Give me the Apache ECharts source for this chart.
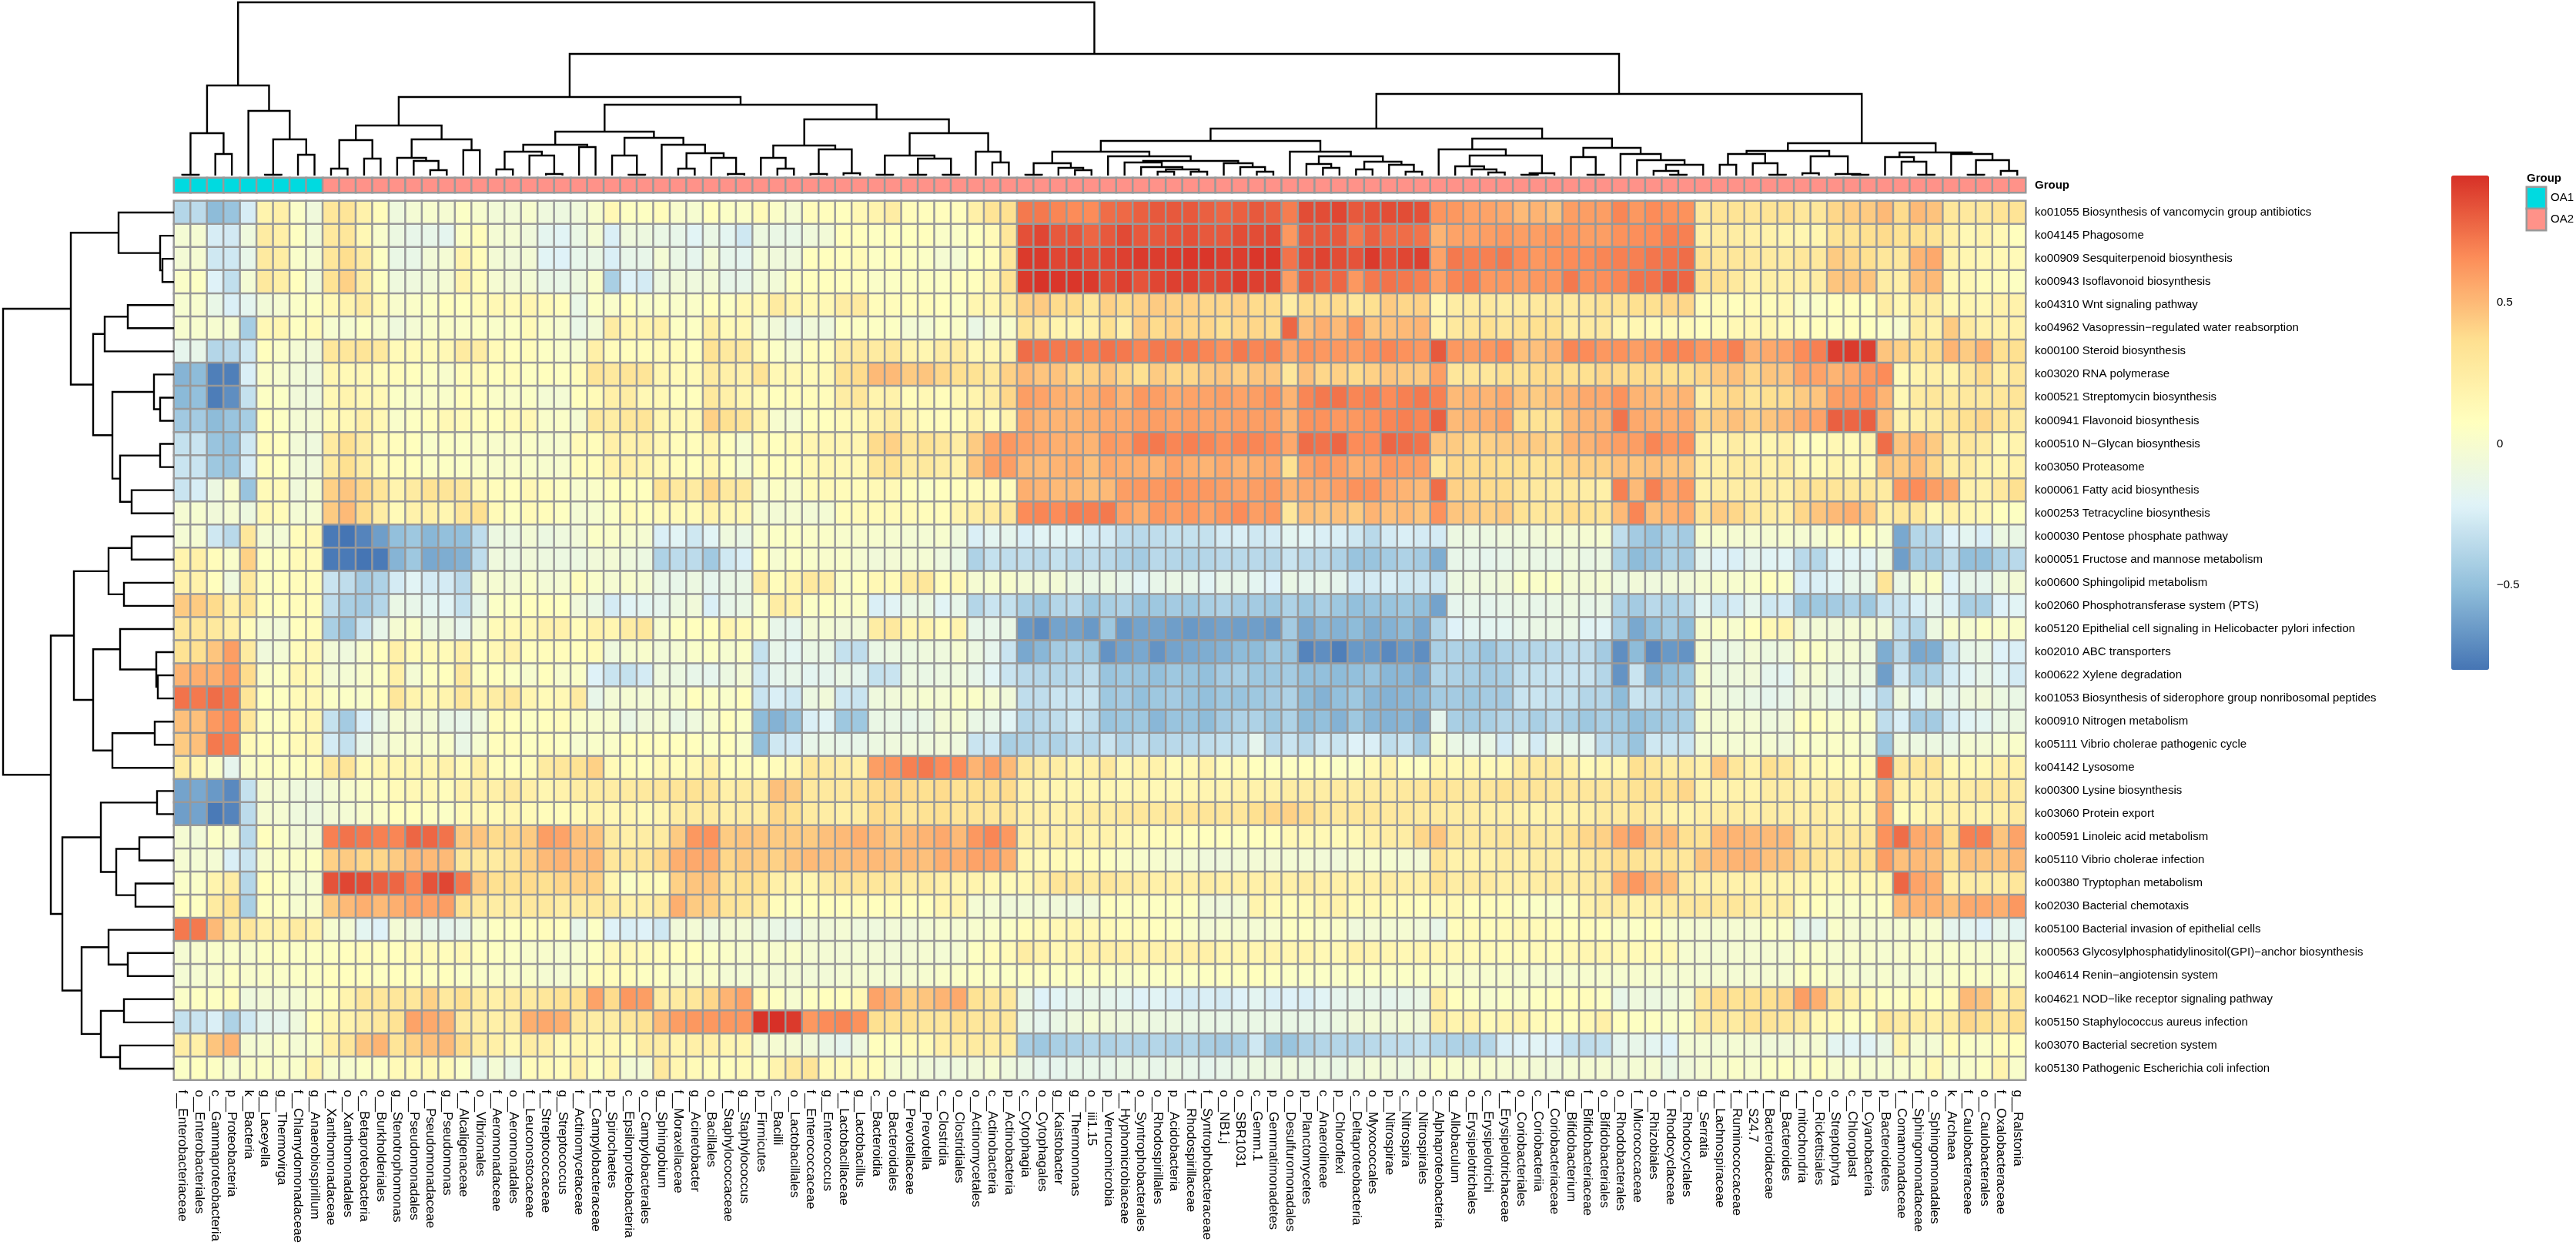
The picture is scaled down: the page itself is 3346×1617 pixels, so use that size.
<!DOCTYPE html>
<html>
<head>
<meta charset="utf-8">
<title>heatmap</title>
<script src="https://cdn.jsdelivr.net/npm/echarts@6/dist/echarts.min.js"></script>
<style>
html, body { margin: 0; padding: 0; background: #fff; }
#main { width: 3346px; height: 1617px; }
</style>
</head>
<body>
<div id="main"></div>
<script>
// columns, in dendrogram order
const taxa = ["f__Enterobacteriaceae","o__Enterobacteriales","c__Gammaproteobacteria","p__Proteobacteria","k__Bacteria","g__Laceyella","g__Thermovirga","f__Chlamydomonadaceae","g__Anaerobiospirillum",
"f__Xanthomonadaceae","o__Xanthomonadales","c__Betaproteobacteria","o__Burkholderiales","g__Stenotrophomonas","o__Pseudomonadales","f__Pseudomonadaceae","g__Pseudomonas","f__Alcaligenaceae","o__Vibrionales","f__Aeromonadaceae","o__Aeromonadales","f__Leuconostocaceae","f__Streptococcaceae","g__Streptococcus","f__Actinomycetaceae","f__Campylobacteraceae","p__Spirochaetes","c__Epsilonproteobacteria","o__Campylobacterales","g__Sphingobium","f__Moraxellaceae","g__Acinetobacter","o__Bacillales","f__Staphylococcaceae","g__Staphylococcus","p__Firmicutes",
"c__Bacilli","o__Lactobacillales","f__Enterococcaceae","g__Enterococcus","f__Lactobacillaceae","g__Lactobacillus","c__Bacteroidia","o__Bacteroidales","f__Prevotellaceae","g__Prevotella","c__Clostridia","o__Clostridiales","o__Actinomycetales","c__Actinobacteria","p__Actinobacteria",
"c__Cytophagia","o__Cytophagales","g__Kaistobacter","g__Thermomonas","o__iii1.15","p__Verrucomicrobia","f__Hyphomicrobiaceae","o__Syntrophobacterales","o__Rhodospirillales","p__Acidobacteria","f__Rhodospirillaceae","f__Syntrophobacteraceae","o__NB1.j","o__SBR1031","c__Gemm.1","p__Gemmatimonadetes",
"o__Desulfuromonadales","p__Planctomycetes","c__Anaerolineae","p__Chloroflexi","c__Deltaproteobacteria","o__Myxococcales","p__Nitrospirae","c__Nitrospira","o__Nitrospirales",
"c__Alphaproteobacteria","g__Allobaculum","o__Erysipelotrichales","c__Erysipelotrichi","f__Erysipelotrichaceae","o__Coriobacteriales","c__Coriobacteriia","f__Coriobacteriaceae","g__Bifidobacterium","f__Bifidobacteriaceae","o__Bifidobacteriales","o__Rhodobacterales","f__Micrococcaceae","o__Rhizobiales","f__Rhodocyclaceae","o__Rhodocyclales",
"g__Serratia","f__Lachnospiraceae","f__Ruminococcaceae","f__S24.7","f__Bacteroidaceae","g__Bacteroides","f__mitochondria","o__Rickettsiales","o__Streptophyta","c__Chloroplast","p__Cyanobacteria","p__Bacteroidetes","f__Comamonadaceae","f__Sphingomonadaceae","o__Sphingomonadales","k__Archaea","f__Caulobacteraceae","o__Caulobacterales","f__Oxalobacteraceae","g__Ralstonia"];
// these columns carry the OA1 annotation, all others OA2
const oa1Taxa = ["f__Enterobacteriaceae","o__Enterobacteriales","c__Gammaproteobacteria","p__Proteobacteria","k__Bacteria","g__Laceyella","g__Thermovirga","f__Chlamydomonadaceae","g__Anaerobiospirillum"];

const pathways = ["ko01055 Biosynthesis of vancomycin group antibiotics","ko04145 Phagosome","ko00909 Sesquiterpenoid biosynthesis","ko00943 Isoflavonoid biosynthesis","ko04310 Wnt signaling pathway","ko04962 Vasopressin−regulated water reabsorption","ko00100 Steroid biosynthesis","ko03020 RNA polymerase","ko00521 Streptomycin biosynthesis","ko00941 Flavonoid biosynthesis","ko00510 N−Glycan biosynthesis","ko03050 Proteasome","ko00061 Fatty acid biosynthesis","ko00253 Tetracycline biosynthesis","ko00030 Pentose phosphate pathway","ko00051 Fructose and mannose metabolism","ko00600 Sphingolipid metabolism","ko02060 Phosphotransferase system (PTS)","ko05120 Epithelial cell signaling in Helicobacter pylori infection","ko02010 ABC transporters","ko00622 Xylene degradation","ko01053 Biosynthesis of siderophore group nonribosomal peptides","ko00910 Nitrogen metabolism","ko05111 Vibrio cholerae pathogenic cycle","ko04142 Lysosome","ko00300 Lysine biosynthesis","ko03060 Protein export","ko00591 Linoleic acid metabolism","ko05110 Vibrio cholerae infection","ko00380 Tryptophan metabolism","ko02030 Bacterial chemotaxis","ko05100 Bacterial invasion of epithelial cells","ko00563 Glycosylphosphatidylinositol(GPI)−anchor biosynthesis","ko04614 Renin−angiotensin system","ko04621 NOD−like receptor signaling pathway","ko05150 Staphylococcus aureus infection","ko03070 Bacterial secretion system","ko05130 Pathogenic Escherichia coli infection"];

// correlation per pathway, in hundredths
const ko01055 = [-38,-35,-52,-48,-25,18,22,3,-7,
30,32,20,10,-8,-3,0,-2,4,0,-5,-5,0,-8,-9,-7,0,14,6,6,10,1,-1,8,4,3,12,
3,-3,10,9,8,14,18,24,10,9,9,9,22,33,36,
72,72,68,66,66,76,77,80,82,82,82,80,78,80,82,80,
71,86,86,88,82,84,86,86,85,
63,62,58,58,56,50,52,48,60,60,60,68,62,66,64,64,
28,33,33,31,33,35,30,30,40,43,44,50,38,50,47,30,28,28,33,33];
const ko04145 = [-3,-2,-25,-27,-8,25,22,6,-5,
28,30,14,1,-10,-14,-14,-17,3,10,-3,-3,-7,-17,-20,-12,-3,-24,-8,-9,-12,-14,-20,-12,-18,-28,-9,
-12,-13,-7,-5,8,8,6,8,7,8,3,3,7,12,30,
85,88,82,83,78,82,87,82,82,84,85,82,82,86,86,87,
62,82,82,82,72,80,76,76,74,
52,58,58,60,62,60,60,62,62,60,60,64,65,66,70,70,
22,25,24,22,20,18,16,16,33,33,36,38,34,36,33,22,14,18,14,8];
const ko00909 = [-4,-2,-28,-28,-14,27,24,2,-2,
30,37,26,5,-12,-13,-5,-3,18,10,-4,-6,-4,-20,-22,-15,-12,-24,-14,-14,-3,-12,-16,-4,-15,-17,-3,
-7,-8,8,8,8,12,5,8,6,4,-2,-3,7,10,30,
92,92,88,90,86,88,90,92,91,92,93,93,91,91,93,93,
74,87,89,86,84,92,85,88,90,
58,72,70,70,72,66,62,64,66,66,68,70,70,73,74,76,
34,30,30,28,26,26,30,28,44,40,36,30,28,52,56,20,16,14,14,12];
const ko00943 = [3,5,-22,-33,-3,28,23,8,-5,
34,42,24,6,-8,-8,-5,-3,18,10,-2,-4,-3,-12,-13,-9,2,-42,-22,-26,-9,-6,-8,-4,-14,-14,-5,
-5,5,8,8,8,8,3,5,6,6,5,8,8,16,34,
92,94,93,93,92,86,90,84,88,90,90,87,88,92,90,90,
60,82,78,78,62,72,74,72,70,
58,68,70,62,62,60,62,62,72,64,65,68,74,74,80,78,
34,36,28,20,23,22,22,24,46,46,46,24,22,48,50,14,14,10,10,6];
const ko04310 = [-1,0,-13,-24,-17,-5,-2,3,5,
14,18,26,12,1,3,4,8,7,12,14,12,16,12,9,-13,4,2,8,2,4,2,3,8,5,14,14,
26,18,14,14,24,27,10,10,9,10,8,5,16,16,24,
42,44,38,38,30,42,38,42,44,42,42,40,40,42,38,38,
24,38,38,38,30,36,44,40,42,
14,24,26,28,24,26,28,30,27,30,34,34,36,36,40,40,
10,12,8,12,10,14,2,3,8,9,7,24,15,24,24,14,16,14,20,20];
const ko04962 = [0,0,-1,-1,-43,14,16,6,12,
-1,-1,5,1,-8,-3,2,3,3,5,2,4,12,3,0,-13,-5,25,16,18,22,5,5,23,12,14,-2,
-6,-12,-6,-8,6,5,5,5,-3,-3,4,3,-12,-3,1,
32,26,18,17,22,36,22,44,38,42,40,40,36,40,40,38,
78,48,54,50,62,46,48,50,52,
18,28,32,36,30,34,36,36,24,26,28,15,15,12,12,12,
8,10,14,15,16,12,9,8,6,8,7,4,0,24,20,44,26,20,20,20];
const ko00100 = [-16,-14,-38,-36,-28,8,3,-3,-6,
30,30,32,28,12,12,11,14,26,24,12,8,10,5,2,-1,22,10,9,10,12,11,8,34,28,28,12,
4,-2,9,9,24,28,26,30,18,16,24,26,14,15,20,
76,74,72,72,70,74,72,68,72,72,72,68,64,72,68,70,
56,64,62,62,60,64,68,64,62,
82,62,60,62,66,48,48,52,68,66,62,64,60,62,68,68,
62,64,70,52,56,58,66,70,90,92,90,46,42,36,38,52,44,52,36,36];
const ko03020 = [-55,-52,-76,-76,-24,3,0,-5,-8,
16,13,14,10,10,8,5,1,10,12,8,10,6,8,6,10,32,28,32,32,16,12,12,26,22,20,33,
14,14,12,13,34,38,50,50,44,46,40,36,34,28,42,
50,46,47,40,42,46,40,36,44,40,40,44,46,42,46,46,
30,48,40,42,38,42,46,44,44,
60,30,32,30,36,34,38,38,36,36,40,38,38,38,36,36,
40,45,48,40,46,46,58,58,52,56,62,66,12,18,22,18,28,38,22,30];
const ko00521 = [-53,-50,-77,-70,-32,5,4,-6,-8,
14,18,14,13,4,2,3,2,9,8,3,2,4,-3,-3,8,12,22,24,14,14,8,8,28,22,16,12,
8,10,10,10,24,30,18,20,10,14,10,14,18,24,40,
60,58,54,52,54,60,52,62,60,56,58,58,60,58,60,64,
52,68,72,74,68,70,66,70,72,
70,50,52,52,56,46,44,48,52,56,56,64,52,50,50,52,
22,38,40,32,36,38,44,46,60,60,64,52,14,26,30,26,28,28,30,32];
const ko00941 = [-45,-44,-52,-48,-43,8,5,-3,-4,
12,14,22,14,2,6,8,14,12,9,8,12,14,2,3,-2,28,24,30,32,16,14,14,42,36,32,18,
0,-3,8,8,12,14,20,26,16,10,10,10,20,10,18,
56,52,52,52,54,56,56,60,60,58,60,58,58,60,60,60,
50,64,64,62,62,64,68,70,68,
80,50,52,54,58,36,34,34,50,52,52,74,56,54,54,56,
40,44,48,42,46,50,56,58,80,78,80,50,20,22,26,32,36,40,32,26];
const ko00510 = [-32,-30,-48,-50,-28,10,8,-5,-8,
26,36,24,12,9,8,2,5,4,3,1,2,3,0,0,12,10,22,20,22,15,10,10,18,9,-1,12,
8,12,16,16,16,16,38,42,30,34,30,24,44,58,62,
58,56,54,54,52,62,60,70,72,68,70,68,64,68,68,66,
56,76,74,78,66,66,78,76,74,
46,44,40,42,44,44,44,40,52,52,56,60,60,68,62,64,
22,18,24,18,16,22,10,8,14,12,18,76,46,52,44,26,30,26,14,18];
const ko03050 = [-30,-30,-46,-48,-25,9,7,-5,-7,
26,36,24,12,9,8,4,5,4,3,1,2,2,0,0,10,10,20,22,18,14,10,8,16,8,-1,10,
8,8,14,15,14,14,30,35,25,28,24,20,46,60,60,
50,50,52,54,48,56,54,54,52,58,54,52,56,52,54,56,
36,58,62,60,54,56,62,60,60,
30,40,38,38,36,36,32,34,42,42,42,48,46,48,46,46,
22,22,26,24,20,24,14,12,18,14,14,46,44,50,40,24,26,18,16,20];
const ko00061 = [-30,-25,-10,1,-48,12,12,-7,-1,
42,46,40,32,18,26,34,32,30,14,10,8,14,10,6,0,3,8,8,8,34,28,26,40,28,28,0,
5,1,11,12,11,10,13,13,8,4,8,8,10,10,10,
54,52,50,50,48,50,60,62,62,64,62,62,60,58,60,62,
52,56,56,60,64,64,56,52,50,
76,42,40,38,38,30,28,26,28,24,22,70,50,70,56,62,
20,24,24,24,24,22,32,34,32,30,30,26,62,66,60,56,20,20,28,36];
const ko00253 = [-2,-1,-6,-2,-9,13,11,-3,-2,
44,50,38,24,12,20,22,16,30,36,12,6,12,10,6,-3,-1,4,12,8,12,12,12,20,14,14,-2,
-4,-2,-4,-3,10,12,12,12,12,10,10,18,24,26,30,
66,68,66,70,70,72,58,54,62,60,62,58,62,66,60,62,
30,48,46,48,44,52,48,50,46,
64,46,44,42,44,34,30,30,38,34,32,50,68,48,52,56,
30,44,40,30,24,22,40,46,50,54,46,22,30,30,14,22,16,14,8,6];
const ko00030 = [-3,-2,-28,-36,30,-3,-4,10,14,
-78,-80,-74,-64,-50,-46,-54,-50,-50,-34,-10,-10,-4,-10,-8,-6,4,3,0,-2,-24,-20,-28,-20,-8,-12,2,
4,4,3,3,1,1,0,-1,-3,-3,0,-8,-24,-18,-16,
-24,-20,-20,-20,-26,-26,-34,-36,-34,-32,-32,-32,-26,-24,-28,-26,
-18,-20,-24,-24,-28,-36,-26,-24,-26,
-26,-10,-10,-10,-8,-8,-6,-2,-4,-2,-1,-34,-44,-48,-40,-44,
-1,0,-2,-2,-2,0,-2,-3,3,6,6,-1,-60,-38,-36,-22,-18,-24,-10,-12];
const ko00051 = [18,22,10,2,42,6,6,12,12,
-78,-78,-80,-78,-55,-46,-60,-58,-56,-34,-8,-10,-6,-9,-10,-10,-6,-4,-8,-10,-40,-35,-35,-45,-28,-24,8,
-1,4,2,1,2,-2,-6,-4,-3,-3,-8,-12,-40,-32,-34,
-34,-36,-32,-36,-34,-36,-40,-44,-36,-38,-40,-38,-36,-36,-36,-38,
-30,-36,-36,-40,-48,-48,-44,-40,-44,
-58,-14,-14,-16,-14,-10,-12,-12,-8,-12,-10,-42,-52,-48,-40,-44,
-16,-22,-24,-16,-20,-20,-36,-38,-20,-20,-20,-10,-64,-44,-44,-34,-50,-50,-40,-36];
const ko00600 = [20,20,8,-8,28,6,8,10,10,
-30,-34,-44,-40,-26,-20,-26,-26,-36,-4,-2,-4,3,-4,-2,10,2,-2,1,-2,-12,-14,-10,-16,-12,-12,26,
10,18,28,24,3,8,14,12,26,30,10,14,-2,0,1,
-4,-4,-4,-10,-12,-10,-14,-20,-14,-12,-14,-20,-14,-14,-18,-22,
-12,-16,-14,-16,-26,-26,-24,-28,-28,
-28,-10,-8,-8,-6,4,3,4,-4,-4,-2,-10,-6,-8,-6,-6,
-2,1,0,2,8,4,-24,-24,-20,-14,-14,32,-12,0,3,-22,-14,-16,-8,-4];
const ko02060 = [44,44,38,22,32,8,8,10,10,
-34,-42,-44,-38,-12,-14,-18,-20,-32,-12,4,4,8,8,7,-6,-12,-26,-20,-18,-16,-10,-6,-24,-14,-12,3,
24,20,4,6,3,3,-24,-20,-12,-10,-20,-14,-38,-30,-32,
-42,-46,-38,-36,-46,-42,-40,-48,-46,-44,-46,-42,-40,-44,-44,-46,
-40,-46,-42,-46,-50,-48,-48,-46,-50,
-62,-16,-14,-16,-14,-12,-14,-12,-10,-14,-12,-40,-44,-36,-40,-36,
-18,-30,-26,-16,-28,-26,-46,-46,-44,-40,-46,-30,-30,-24,-16,-24,-42,-42,-22,-20];
const ko05120 = [30,30,28,22,10,-3,-5,8,10,
-42,-48,-30,-14,-2,2,-10,-9,-16,-2,12,14,14,20,20,10,20,16,24,30,-1,6,8,8,16,12,4,
-14,-16,-4,-3,-6,-6,24,28,16,18,10,18,-14,-14,-12,
-66,-70,-62,-62,-66,-46,-66,-62,-62,-64,-66,-64,-62,-64,-64,-66,
-44,-60,-54,-56,-52,-58,-56,-52,-60,
-38,-22,-18,-18,-18,-14,-12,-12,-12,-20,-20,-44,-60,-50,-44,-52,
0,3,0,8,14,18,-6,-4,-6,-3,-3,-4,-32,-38,-10,1,-1,4,2,2];
const ko02010 = [34,36,46,60,26,-7,-3,10,14,
-5,-8,0,8,22,12,12,12,22,8,14,20,8,10,10,8,12,-8,-1,1,-5,-3,2,4,-1,3,-32,
-14,-18,-12,-12,-32,-34,-12,-10,-10,-8,-8,-2,-10,-16,-30,
-60,-54,-44,-42,-46,-68,-62,-60,-68,-62,-60,-58,-56,-52,-52,-46,
-48,-74,-70,-76,-66,-66,-72,-66,-70,
-42,-40,-42,-48,-40,-38,-38,-36,-34,-34,-44,-70,-52,-72,-66,-68,
-1,-12,-10,-4,-10,-8,4,4,-4,-3,-8,-58,-36,-60,-58,-30,-14,-12,-22,-24];
const ko00622 = [52,54,54,62,38,3,5,16,12,
-4,-3,1,5,22,-3,6,8,28,5,8,4,0,8,1,3,-22,-30,-32,-26,-8,-10,-14,-16,-10,-4,-28,
-16,-14,-18,-16,-12,-16,-32,-30,-10,-12,-10,-8,-14,-20,-30,
-36,-38,-38,-36,-34,-48,-46,-48,-50,-46,-48,-50,-44,-42,-46,-46,
-44,-50,-50,-52,-50,-48,-54,-54,-60,
-38,-40,-42,-44,-42,-32,-32,-30,-30,-30,-38,-68,-30,-58,-50,-46,
-1,-10,-8,-6,-16,-18,-4,-2,-10,-8,-10,-64,-26,-42,-40,-26,-20,-14,-20,-26];
const ko01053 = [74,72,76,72,32,7,6,12,14,
4,4,2,8,30,18,14,18,30,20,24,30,16,12,14,26,-14,-4,-2,-3,-2,-1,8,4,2,8,-30,
-24,-28,-10,-6,-28,-30,-8,-6,-3,-1,-2,3,3,-2,-6,
-34,-34,-30,-30,-30,-46,-44,-50,-46,-44,-48,-50,-46,-48,-46,-44,
-40,-52,-56,-50,-46,-54,-56,-54,-54,
-44,-44,-46,-44,-44,-30,-30,-32,-32,-38,-38,-52,-30,-34,-40,-40,
-1,-8,-10,-12,-16,-14,-6,-8,-14,-12,-18,-36,-8,-20,-10,-16,-8,-6,-10,-12];
const ko00910 = [48,48,62,66,30,6,6,12,16,
-32,-44,-24,-12,-2,-6,-4,-12,-14,-8,10,8,5,8,10,3,0,0,-12,-6,-2,-12,-8,0,8,4,-52,
-56,-48,-24,-20,-46,-46,-12,-12,-14,-12,-4,-2,-12,-14,-20,
-38,-36,-34,-28,-34,-48,-46,-46,-54,-48,-48,-52,-44,-40,-40,-46,
-40,-52,-50,-56,-46,-54,-56,-54,-60,
-16,-42,-44,-42,-38,-38,-42,-36,-42,-46,-42,-46,-50,-46,-44,-42,
-1,-4,-3,-3,-8,-6,8,8,2,3,2,-34,-24,-44,-44,-26,-20,-18,-12,-10];
const ko05111 = [44,48,72,70,12,8,7,12,14,
-26,-32,-14,-6,-1,0,1,2,-12,-1,9,9,6,9,6,-1,2,3,8,8,8,8,8,4,8,2,-50,
-28,-26,-14,-12,-14,-14,-10,-8,-8,-8,-5,-8,-30,-28,-42,
-40,-38,-40,-34,-36,-30,-38,-34,-38,-36,-36,-34,-32,-32,-16,-36,
-30,-36,-28,-30,-22,-24,-34,-30,-44,
-1,-12,-14,-12,-26,-14,-26,-12,-14,-16,-34,-40,-48,-28,-30,-30,
-3,-1,-3,-1,-2,-6,4,2,3,2,-3,-46,-8,-10,-10,-12,-2,-4,-1,2];
const ko04142 = [26,16,3,-16,3,6,6,6,10,
30,32,12,16,16,16,16,20,12,24,10,8,10,26,30,34,42,12,10,8,14,10,14,22,8,10,8,
10,14,30,26,24,22,60,62,70,72,66,66,52,60,50,
30,26,24,18,22,28,14,20,20,12,14,20,10,12,8,6,
6,8,8,4,4,14,20,8,6,
16,14,16,12,14,26,28,28,22,12,16,16,36,30,24,26,
20,46,30,20,36,30,16,14,10,10,12,76,28,30,32,14,14,14,22,20];
const ko00300 = [-62,-60,-66,-72,-32,-2,-3,-8,-9,
-3,1,3,6,12,14,14,10,20,22,22,28,22,16,20,24,26,24,26,28,30,32,34,32,22,26,26,
48,44,28,28,28,34,38,40,38,36,38,34,36,36,38,
20,18,16,16,15,15,14,16,14,14,15,17,17,20,20,20,
24,24,24,26,24,26,26,28,30,
34,30,28,30,34,32,32,30,30,30,30,32,34,36,36,40,
18,18,20,18,24,24,20,20,24,20,16,52,20,20,24,22,24,28,30,26];
const ko03060 = [-64,-62,-78,-74,-35,-2,-2,-8,-9,
-4,-3,1,3,8,8,6,4,12,14,12,16,12,10,10,12,18,14,16,12,16,24,26,26,22,24,24,
40,36,26,24,22,24,38,36,30,34,36,32,32,30,32,
22,22,20,22,26,24,28,30,28,30,32,32,30,30,36,40,
42,38,30,28,30,30,28,28,26,
26,24,24,22,22,20,18,20,20,22,26,26,30,24,20,18,
22,24,24,22,24,24,22,24,20,18,18,56,10,14,20,22,20,18,22,26];
const ko00591 = [-2,-5,4,0,-36,8,4,-4,-4,
70,74,72,70,68,78,78,74,44,46,38,40,44,60,58,48,46,26,22,24,26,44,62,64,44,46,46,
44,44,44,48,50,54,50,44,50,52,56,50,62,68,62,
22,22,22,22,18,20,14,12,10,10,8,8,8,6,8,8,
14,14,14,12,14,22,24,24,40,
46,30,28,28,30,30,28,26,34,40,42,56,60,46,50,36,
34,52,52,50,50,50,32,30,28,28,30,64,76,56,54,36,70,70,46,58];
const ko05110 = [-2,-3,-3,-24,-30,0,4,3,5,
42,44,40,40,44,50,50,50,30,28,26,32,42,50,52,48,50,30,30,30,40,54,56,56,40,44,44,
42,46,50,48,48,50,50,48,50,48,54,54,58,58,54,
14,12,12,10,10,6,3,1,0,-3,-3,-7,-7,-5,-4,-4,
-3,-3,-5,-6,-2,-1,-1,-3,-4,
32,20,20,20,24,22,24,24,20,26,30,38,34,30,34,30,
46,50,52,52,48,46,38,32,26,32,34,60,48,50,48,34,48,46,46,50];
const ko00380 = [3,3,18,24,-38,8,6,-3,-1,
84,88,86,80,78,68,84,88,72,44,36,36,38,36,40,42,42,16,4,12,10,42,46,46,30,36,36,
22,18,16,24,30,32,30,28,24,26,22,18,18,14,12,
14,22,32,30,26,30,26,24,22,22,22,24,22,22,22,22,
22,24,22,22,20,22,24,22,22,
34,24,26,26,22,22,24,26,24,26,30,56,62,52,50,24,
20,22,20,20,18,18,16,14,12,14,14,16,78,58,54,22,24,24,24,30];
const ko02030 = [8,6,26,34,-42,6,6,-1,1,
44,50,54,50,54,58,58,60,34,28,24,24,28,28,24,26,28,26,20,22,28,54,44,42,32,30,26,
10,6,8,8,8,10,8,10,8,8,16,18,-3,-3,-6,
-5,-4,-6,-8,-6,8,6,6,6,6,6,-6,-7,-4,18,12,
10,12,18,20,12,14,12,10,8,
12,14,8,10,10,5,4,2,6,20,24,26,20,22,26,28,
30,30,30,24,22,24,10,8,2,2,3,6,50,52,52,48,56,56,54,62];
const ko05100 = [72,72,50,28,30,20,20,26,20,
-1,-3,-18,-22,-3,-8,-14,-16,-14,0,6,6,8,10,8,-14,5,-22,-24,-22,-28,-6,-4,-10,-4,-4,-9,
-12,-14,-6,-6,-3,-8,-8,-5,-6,-3,0,-2,0,2,4,
10,12,14,16,14,12,10,10,8,6,2,-4,-1,-2,-3,-1,
6,6,3,3,-7,-4,-3,-2,-5,
-14,10,12,10,12,14,12,10,8,10,8,2,4,8,0,-1,
-2,-2,-2,-2,4,3,-13,-16,2,-2,-2,-2,-1,-1,-1,-16,-18,-22,-14,-18];
const ko00563 = [-2,0,2,2,0,5,6,4,5,
6,8,10,8,8,12,12,10,14,8,6,4,1,1,-1,0,6,14,14,12,10,8,8,4,3,0,2,
0,2,-2,-3,-4,-3,-4,-5,-4,-2,-3,-2,6,10,12,
24,20,14,18,22,22,22,20,20,20,22,22,16,16,16,18,
16,18,14,14,20,18,16,14,16,
16,14,12,12,10,10,12,10,14,16,16,14,12,12,14,-1,
-2,-3,-2,-2,-2,-2,4,3,-1,1,1,-1,1,2,2,2,2,1,-1,-1];
const ko04614 = [-3,-2,0,5,1,3,3,4,5,
8,8,8,6,8,8,6,8,4,3,3,2,2,-2,-2,0,10,10,10,6,6,0,1,2,-3,-3,-3,
-4,-4,-5,-5,-3,-2,-3,-3,-2,-1,2,3,5,4,4,
6,6,5,5,5,4,2,4,4,5,4,6,6,6,8,6,
4,4,4,3,4,4,3,4,4,
3,1,0,0,1,-1,-1,-2,-1,0,0,-1,0,-1,-2,-2,
-3,-2,-3,-2,-2,-2,5,4,0,-1,-3,0,-2,-2,-1,2,4,3,2,3];
const ko04621 = [3,6,6,10,-8,-4,-3,-3,3,
8,18,30,30,30,30,42,28,36,24,22,26,26,30,34,36,58,38,62,60,24,26,30,40,52,58,12,
6,-1,6,8,8,14,58,52,42,46,52,56,34,30,28,
-12,-22,-20,-16,-14,-16,-18,-22,-20,-24,-26,-24,-26,-22,-18,-24,
-22,-24,-20,-16,-14,-14,-16,-14,-12,
24,8,4,0,4,2,6,8,8,10,6,-14,-8,-10,-8,-3,
30,38,34,36,36,40,60,54,28,20,12,6,6,12,8,12,50,46,22,30];
const ko05150 = [-32,-30,-24,-40,-28,-16,-16,-8,8,
16,18,24,28,34,58,56,52,26,24,22,24,54,56,54,28,24,24,30,34,50,60,62,62,62,62,94,
95,92,62,66,68,64,36,34,34,30,30,36,30,30,30,
-12,-16,-12,-8,-3,-6,-8,-8,-10,-10,-12,-12,-13,-12,-12,-12,
-12,-13,-13,-10,-6,-4,-6,-3,-6,
24,18,20,12,16,18,12,10,8,14,22,8,6,6,2,4,
26,28,26,34,32,30,26,14,12,6,8,30,26,24,22,26,40,36,30,36];
const ko03070 = [24,22,46,52,-2,-1,3,-3,2,
22,30,46,52,32,42,48,50,38,24,22,14,24,22,12,16,14,14,10,24,24,18,22,22,16,16,-3,
-2,-4,-6,-12,-16,-8,8,6,12,12,22,24,26,24,24,
-42,-46,-42,-40,-38,-40,-38,-40,-38,-40,-38,-42,-44,-42,-28,-46,
-48,-40,-38,-38,-38,-36,-34,-34,-32,
-38,-40,-40,-38,-24,-22,-20,-22,-32,-34,-32,-16,-14,-18,-22,-3,
-3,-5,-3,-4,-6,-6,-2,-2,-18,-20,-20,-12,18,-2,-3,10,4,3,10,8];
const ko05130 = [4,7,5,0,3,4,2,2,18,
0,0,4,4,12,12,14,12,4,-14,-3,-12,10,12,10,22,6,16,-3,-3,28,16,12,10,9,12,6,
18,28,32,12,12,12,10,-2,-3,-6,-8,-8,-6,-2,-8,
-12,-16,-16,-14,-14,-14,-12,-12,-14,-12,-14,-16,-14,-12,-10,-10,
-8,-10,-10,-12,-8,-5,-6,-8,-4,
3,0,0,0,-2,-2,-4,-6,-3,-2,-2,-6,-3,-2,-12,-6,
-2,0,3,0,4,6,2,8,0,2,-1,-1,0,2,14,-1,2,5,18,2];

const matrix = [ko01055,ko04145,ko00909,ko00943,ko04310,ko04962,ko00100,ko03020,ko00521,ko00941,ko00510,ko03050,ko00061,ko00253,ko00030,ko00051,ko00600,ko02060,ko05120,ko02010,ko00622,ko01053,ko00910,ko05111,ko04142,ko00300,ko03060,ko00591,ko05110,ko00380,ko02030,ko05100,ko00563,ko04614,ko04621,ko05150,ko03070,ko05130];

// dendrograms, nested [height, left, right], 0 is a leaf; heights in picture pixels
const colTree = [225,
  [117, [55, [1,0,0], [28,0,0]], [84, 0, [47, [1,0,0], [27,0,0]]]],
  [158,
    [102,
      [65, [46, [9,0,0], [22,0,0]], [47, [23, 0, [19, 0, [7,0,0]]], [33,0,0]]],
      [92,
        [57,
          [40, [31, [8,0,0], [26, 0, [2,0,0]]], [37,0,0]],
          [49, [26, 0, [1,0,0]], [40, 0, [29, [9,0,0], [23, 0, [2,0,0]]]]]],
        [73,
          [39, [23, 0, [9,0,0]], [34, [2,0,0], [3,0,0]]],
          [55, [26, [1,0,0], [22, [1,0,0], [1,0,0]]], [31, 0, [17,0,0]]]]]],
    [106,
      [61,
        [45,
          [31,
            [16, [1,0,0], [10, 0, [7,0,0]]],
            [25, 0, [19,
              [17, 0, [11, 0, [8, [5,0,0], [5,0,0]]]],
              [16, 0, [11, 0, [5,0,0]]]]]],
          [31, 0, [25, [15, 0, [10,0,0]], [18, [8,0,0], [14, 0, [5,0,0]]]]]],
        [48,
          [34, 0, [26, [12, 0, [8, 0, [4,0,0]]], [3, [1,0,0], 0]]],
          [36, [24, 0, [1,0,0]], [28, 0, [20, 0, [14, [6, 0, [1,0,0]], 0]]]]]],
      [42,
        [32, [28, [14,0,0], [16, 0, [1,0,0]]], [25, [3,0,0], [2, 0, [1,0,0]]]],
        [30, [24, 0, [18, 0, [1,0,0]]], [28, 0, [20, [1,0,0], [6,0,0]]]]]]]];

const rowTree = [222,
  [134,
    [72, 0, [18, 0, [15,0,0]]],
    [105,
      [90, [60,0,0], 0],
      [80, [26, 0, [18,0,0]], [70, [18,0,0], [55,0,0]]]]],
  [160,
    [130,
      [85, [55,0,0], [65,0,0]],
      [105, [70, 0, [23, 0, [21,0,0]]], [80, [25,0,0], 0]]],
    [145,
      [95, [22,0,0], [75, [45,0,0], [50,0,0]]],
      [120, [85, 0, [60,0,0]], [95, [65,0,0], [70,0,0]]]]]];

const colorStops = ["#4575B4","#91BFDB","#E0F3F8","#FFFFBF","#FEE090","#FC8D59","#D73027"];
const scaleTicks = [-0.5, 0, 0.5];
const FONT = "Liberation Sans";

// walk a tree, hand back the brackets [posA, hA, posB, hB, h] and the subtree position
function flatten(tree) {
  const nodes = [];
  let leaf = 0;
  function walk(t) {
    if (!t) { leaf += 1; return [leaf - 0.5, 0]; }
    const a = walk(t[1]);
    const b = walk(t[2]);
    nodes.push([a[0], a[1], b[0], b[1], t[0]]);
    return [(a[0] + b[0]) / 2, t[0]];
  }
  walk(tree);
  return nodes;
}

function bracketItem(horizontal) {
  return function(params, api) {
    const pa = api.value(0), ha = api.value(1), pb = api.value(2), hb = api.value(3), h = api.value(4);
    const pt = (pos, ht) => api.coord(horizontal ? [ht, pos] : [pos, ht]);
    return {
      type: "polyline",
      silent: true,
      shape: { points: [pt(pa, ha), pt(pa, h), pt(pb, h), pt(pb, hb)] },
      style: { stroke: "#000", fill: "none", lineWidth: 2.4 }
    };
  };
}

const cells = [];
matrix.forEach((row, y) => row.forEach((v, x) => cells.push([x, y, v / 100])));
const groupCells = taxa.map((t, x) => [x, 0, oa1Taxa.includes(t) ? 1 : 2]);

const hidden = { axisLine: { show: false }, axisTick: { show: false }, axisLabel: { show: false }, splitLine: { show: false } };
const cellStyle = { borderColor: "#999999", borderWidth: 2.5 };

const option = {
  animation: false,
  backgroundColor: "#fff",
  textStyle: { fontFamily: FONT },
  title: { text: "Group", left: 3282, top: 224, padding: 0, textStyle: { fontFamily: FONT, fontSize: 15, fontWeight: "bold", color: "#000" } },
  grid: [
    { left: 226, top: 261, width: 2405, height: 1142 },
    { left: 226, top: 231, width: 2405, height: 19 },
    { left: 226, top: 3, width: 2405, height: 225 },
    { left: 4, top: 261, width: 222, height: 1142 },
    { left: 3184, top: 228, width: 49, height: 642 },
    { left: 3282, top: 243, width: 32, height: 56 }
  ],
  xAxis: [
    { gridIndex: 0, type: "category", data: taxa, position: "bottom",
      axisLine: { show: false }, axisTick: { show: false }, splitLine: { show: false },
      axisLabel: { interval: 0, rotate: -90, margin: 13, fontSize: 17, color: "#000", fontFamily: FONT } },
    Object.assign({ gridIndex: 1, type: "category", data: taxa }, hidden),
    Object.assign({ gridIndex: 2, type: "value", min: 0, max: taxa.length }, hidden),
    Object.assign({ gridIndex: 3, type: "value", min: 0, max: 222, inverse: true }, hidden),
    Object.assign({ gridIndex: 4, type: "value", min: 0, max: 1 }, hidden),
    Object.assign({ gridIndex: 5, type: "category", data: ["x"] }, hidden)
  ],
  yAxis: [
    { gridIndex: 0, type: "category", data: pathways, inverse: true, position: "right",
      axisLine: { show: false }, axisTick: { show: false }, splitLine: { show: false },
      axisLabel: { interval: 0, margin: 12, fontSize: 15, color: "#000", fontFamily: FONT } },
    { gridIndex: 1, type: "category", data: ["Group"], position: "right",
      axisLine: { show: false }, axisTick: { show: false }, splitLine: { show: false },
      axisLabel: { margin: 12, fontSize: 15, fontWeight: "bold", color: "#000", fontFamily: FONT } },
    Object.assign({ gridIndex: 2, type: "value", min: 0, max: 225 }, hidden),
    Object.assign({ gridIndex: 3, type: "value", min: 0, max: pathways.length, inverse: true }, hidden),
    { gridIndex: 4, type: "value", min: -0.8, max: 0.95, position: "right",
      axisLine: { show: false }, axisTick: { show: false }, splitLine: { show: false },
      axisLabel: { customValues: scaleTicks, margin: 10, fontSize: 15, color: "#000", fontFamily: FONT,
        formatter: v => String(v).replace("-", "−") } },
    { gridIndex: 5, type: "category", data: ["OA1", "OA2"], inverse: true, position: "right",
      axisLine: { show: false }, axisTick: { show: false }, splitLine: { show: false },
      axisLabel: { margin: 6, fontSize: 15, color: "#000", fontFamily: FONT } }
  ],
  visualMap: [
    { type: "continuous", seriesIndex: 0, min: -0.8, max: 0.95, left: 3184, top: 228, itemWidth: 49, itemHeight: 642,
      padding: 0, calculable: false, hoverLink: false, text: null, inRange: { color: colorStops } },
    { type: "piecewise", seriesIndex: [1, 4], show: false, dimension: 2,
      pieces: [{ value: 1, color: "#00DAE0" }, { value: 2, color: "#FF9289" }] }
  ],
  series: [
    { type: "heatmap", xAxisIndex: 0, yAxisIndex: 0, data: cells, itemStyle: cellStyle, silent: true, progressive: 0 },
    { type: "heatmap", xAxisIndex: 1, yAxisIndex: 1, data: groupCells, itemStyle: cellStyle, silent: true, progressive: 0 },
    { type: "custom", xAxisIndex: 2, yAxisIndex: 2, data: flatten(colTree), renderItem: bracketItem(false), silent: true, clip: false, progressive: 0 },
    { type: "custom", xAxisIndex: 3, yAxisIndex: 3, data: flatten(rowTree), renderItem: bracketItem(true), silent: true, clip: false, progressive: 0 },
    { type: "heatmap", xAxisIndex: 5, yAxisIndex: 5, data: [[0, 0, 1], [0, 1, 2]], itemStyle: cellStyle, silent: true }
  ]
};

const chart = echarts.init(document.getElementById("main"), null, { renderer: "canvas" });
chart.setOption(option);
</script>
</body>
</html>
